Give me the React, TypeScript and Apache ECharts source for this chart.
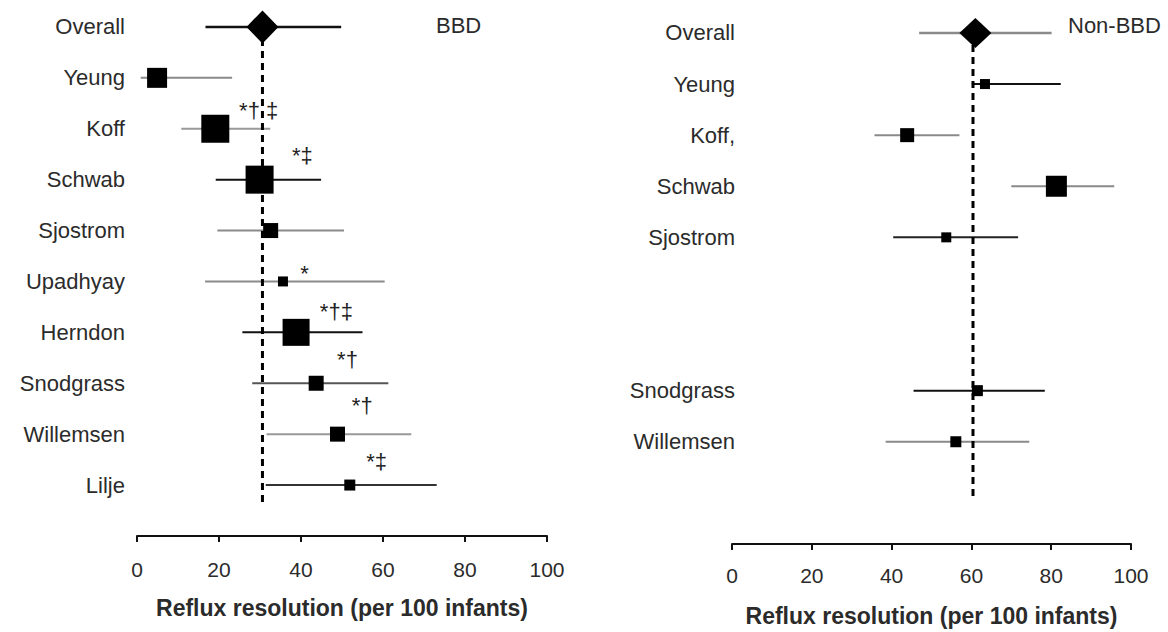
import React, { useEffect, useRef } from 'react';
import * as echarts from 'echarts';

const FONT = '"Liberation Sans", Arial, Helvetica, sans-serif';

// ---------- BBD panel data ----------
const bbdStudies = ['Overall', 'Yeung', 'Koff', 'Schwab', 'Sjostrom', 'Upadhyay', 'Herndon', 'Snodgrass', 'Willemsen', 'Lilje'];
const bbdRow = [0, 1, 2, 3, 4, 5, 6, 7, 8, 9];
const bbdEstimate = [30.6, 4.9, 19.1, 29.9, 32.6, 35.6, 38.8, 43.7, 48.9, 51.9];
const bbdLower = [16.7, 0.9, 10.8, 19.2, 19.6, 16.6, 25.7, 28.1, 31.6, 31.4];
const bbdUpper = [49.8, 23.2, 32.5, 44.9, 50.5, 60.4, 55.0, 61.3, 66.9, 73.1];
const bbdWeight = [0, 20, 28, 28, 15, 10, 27, 15, 15, 11];
const bbdFlags = ['', '', '*† ‡', '*‡', '', '*', '*†‡', '*†', '*†', '*‡'];
const bbdReference = 30.6;

// ---------- Non-BBD panel data ----------
const nonStudies = ['Overall', 'Yeung', 'Koff,', 'Schwab', 'Sjostrom', 'Snodgrass', 'Willemsen'];
const nonRow = [0, 1, 2, 3, 4, 7, 8];
const nonEstimate = [61.0, 63.4, 43.9, 81.3, 53.7, 61.5, 56.1];
const nonLower = [46.9, 60.1, 35.7, 70.0, 40.4, 45.5, 38.5];
const nonUpper = [80.1, 82.4, 57.0, 95.8, 71.7, 78.4, 74.5];
const nonWeight = [0, 10, 14, 21, 10, 11, 11];
const nonFlags = ['', '', '', '', '', '', ''];
const nonReference = 60.4;

const xTickMin = 0;
const xTickMax = 100;
const xTickStep = 20;
const axisTitle = 'Reflux resolution (per 100 infants)';

// ---------- styling / layout (not data) ----------
const bbdLineColor = ['#111', '#8a8a8a', '#999', '#111', '#8a8a8a', '#8a8a8a', '#111', '#555', '#999', '#333'];
const nonLineColor = ['#8a8a8a', '#111', '#8a8a8a', '#8a8a8a', '#222', '#111', '#8a8a8a'];
const bbdFlagX = [0, 0, 24.9, 37.8, 0, 39.8, 44.6, 48.8, 52.4, 55.9];
const bbdFlagDy = [0, 0, -18, -24, 0, -8, -21, -24, -29, -24];
const nonFlagX = [0, 0, 0, 0, 0, 0, 0];
const nonFlagDy = [0, 0, 0, 0, 0, 0, 0];

type Panel = {
  studies: string[];
  row: number[];
  est: number[];
  lo: number[];
  hi: number[];
  weight: number[];
  flags: string[];
  ref: number;
  dashEnd: number;
  lineColor: string[];
  flagX: number[];
  flagDy: number[];
  labelGap: number;
  diamond: [number, number];
};

const bbdPanel: Panel = {
  studies: bbdStudies, row: bbdRow, est: bbdEstimate, lo: bbdLower, hi: bbdUpper,
  weight: bbdWeight, flags: bbdFlags, ref: bbdReference, dashEnd: 9.39,
  lineColor: bbdLineColor, flagX: bbdFlagX, flagDy: bbdFlagDy, labelGap: 12, diamond: [16, 16.5],
};
const nonPanel: Panel = {
  studies: nonStudies, row: nonRow, est: nonEstimate, lo: nonLower, hi: nonUpper,
  weight: nonWeight, flags: nonFlags, ref: nonReference, dashEnd: 9.16,
  lineColor: nonLineColor, flagX: nonFlagX, flagDy: nonFlagDy, labelGap: -3, diamond: [16, 15],
};

function panelSeries(p: Panel, g: number): any[] {
  const data = p.studies.map((_, k) => [p.est[k], p.row[k], p.lo[k], p.hi[k]]);
  return [
    {
      type: 'custom',
      xAxisIndex: g,
      yAxisIndex: g,
      z: 1,
      silent: true,
      encode: { x: 0, y: 1 },
      data,
      renderItem: (params: any, api: any) => {
        const k = params.dataIndex;
        const y = api.value(1);
        const a = api.coord([api.value(2), y]);
        const b = api.coord([api.value(3), y]);
        return {
          type: 'line',
          shape: { x1: a[0], y1: a[1], x2: b[0], y2: b[1] },
          style: { stroke: p.lineColor[k], lineWidth: k === 0 ? 2.5 : 2 },
        };
      },
    },
    {
      type: 'line',
      xAxisIndex: g,
      yAxisIndex: g,
      z: 2,
      silent: true,
      symbol: 'none',
      data: [[p.ref, 0], [p.ref, p.dashEnd]],
      lineStyle: { color: '#000', width: 3, type: [7, 5] },
    },
    {
      type: 'custom',
      xAxisIndex: g,
      yAxisIndex: g,
      z: 3,
      silent: true,
      encode: { x: 0, y: 1 },
      data,
      renderItem: (params: any, api: any) => {
        const k = params.dataIndex;
        const y = api.value(1);
        const c = api.coord([api.value(0), y]);
        const children: any[] = [];
        if (k === 0) {
          const [hw, hh] = p.diamond;
          children.push({
            type: 'polygon',
            shape: { points: [[c[0] - hw, c[1]], [c[0], c[1] - hh], [c[0] + hw, c[1]], [c[0], c[1] + hh]] },
            style: { fill: '#000' },
          });
        } else {
          const s = p.weight[k];
          children.push({
            type: 'rect',
            shape: { x: c[0] - s / 2, y: c[1] - s / 2, width: s, height: s },
            style: { fill: '#000' },
          });
        }
        children.push({
          type: 'text',
          style: {
            text: p.studies[k],
            x: params.coordSys.x - p.labelGap,
            y: c[1],
            align: 'right',
            verticalAlign: 'middle',
            fontSize: 22,
            fontFamily: FONT,
            fill: '#2b2b2b',
          },
        });
        if (p.flags[k]) {
          const f = api.coord([p.flagX[k], y]);
          children.push({
            type: 'text',
            style: {
              text: p.flags[k],
              x: f[0],
              y: f[1] + p.flagDy[k],
              align: 'left',
              verticalAlign: 'middle',
              fontSize: 22,
              fontFamily: FONT,
              fill: '#222',
            },
          });
        }
        return { type: 'group', children };
      },
    },
  ];
}

function xAxisFor(g: number, offset: number, margin: number) {
  return {
    type: 'value',
    gridIndex: g,
    min: xTickMin,
    max: xTickMax,
    interval: xTickStep,
    position: 'bottom',
    offset,
    splitLine: { show: false },
    axisLine: { show: true, onZero: false, lineStyle: { color: '#111', width: 2 } },
    axisTick: { show: true, length: 6, lineStyle: { color: '#111', width: 2 } },
    axisLabel: { fontSize: 21, fontFamily: FONT, color: '#2b2b2b', margin },
    name: axisTitle,
    nameLocation: 'middle',
    nameGap: 60,
    nameTextStyle: { fontSize: 23, fontWeight: 'bold', fontFamily: FONT, color: '#2b2b2b' },
  };
}

function yAxisFor(g: number) {
  return { type: 'value', gridIndex: g, min: -0.5, max: 9.5, inverse: true, show: false };
}

export default function App() {
  const ref = useRef<HTMLDivElement>(null);
  useEffect(() => {
    if (!ref.current) return;
    const chart = echarts.init(ref.current, undefined, { renderer: 'svg' });
    chart.setOption({
      animation: false,
      backgroundColor: '#fff',
      grid: [
        { left: 137, top: 1.5, width: 410, height: 509 },
        { left: 732, top: 7.4, width: 399, height: 513 },
      ],
      xAxis: [xAxisFor(0, 25.5, 23), xAxisFor(1, 25.6, 21)],
      yAxis: [yAxisFor(0), yAxisFor(1)],
      graphic: [
        { type: 'text', left: 436, top: 14, style: { text: 'BBD', fontSize: 22, fontFamily: FONT, fill: '#2b2b2b' } },
        { type: 'text', left: 1068, top: 14, style: { text: 'Non-BBD', fontSize: 22, fontFamily: FONT, fill: '#2b2b2b' } },
      ],
      series: [...panelSeries(bbdPanel, 0), ...panelSeries(nonPanel, 1)],
    });
    return () => chart.dispose();
  }, []);
  return (
    <div
      ref={ref}
      style={{ position: 'fixed', left: 0, top: 0, width: 1168, height: 632, background: '#fff' }}
    />
  );
}
